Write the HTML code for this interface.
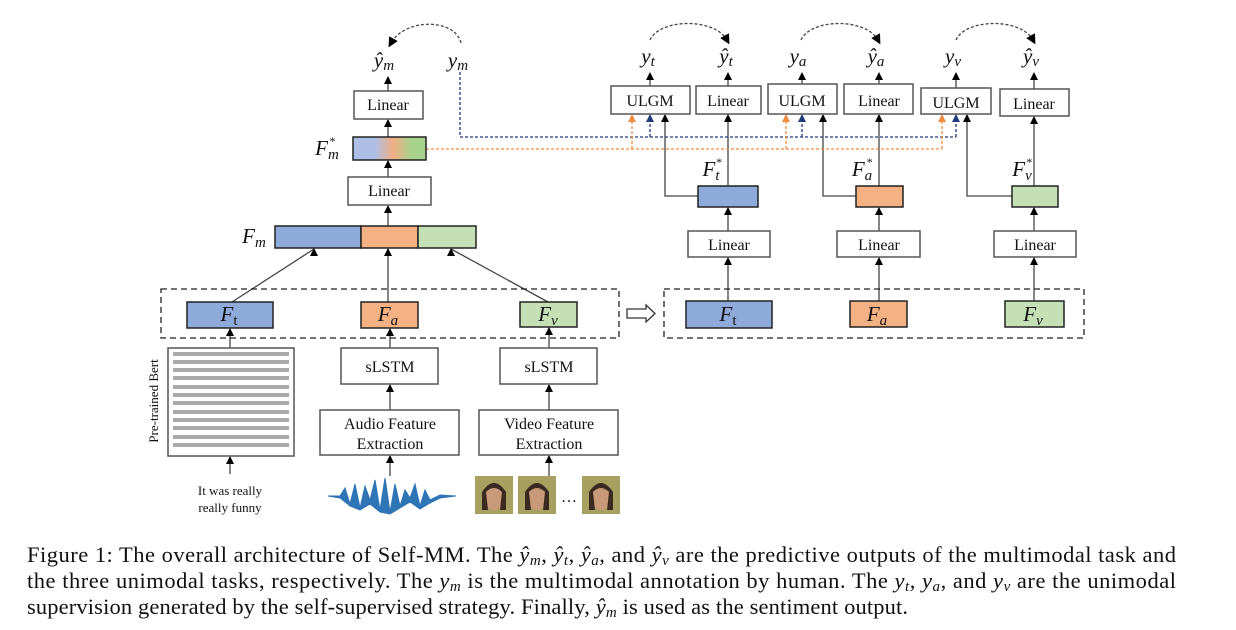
<!DOCTYPE html>
<html><head><meta charset="utf-8"><style>
body{margin:0;background:#fff}
svg{display:block}
text{font-family:"Liberation Serif",serif;fill:#111}
.m{font-style:italic}
</style></head><body>
<svg width="1236" height="630" viewBox="0 0 1236 630" xmlns="http://www.w3.org/2000/svg">
<defs>
<marker id="ao" markerWidth="8" markerHeight="8" refX="4" refY="1" orient="0" markerUnits="userSpaceOnUse"><path d="M0,8 L4,0 L8,8 Z" fill="#f08a3c"/></marker>
<marker id="ab" markerWidth="8" markerHeight="8" refX="4" refY="1" orient="0" markerUnits="userSpaceOnUse"><path d="M0,8 L4,0 L8,8 Z" fill="#1f3a7a"/></marker>
<marker id="ak" markerWidth="8" markerHeight="8" refX="4" refY="1" orient="0" markerUnits="userSpaceOnUse"><path d="M0,8 L4,0 L8,8 Z" fill="#000"/></marker>
<marker id="ad" markerWidth="10" markerHeight="10" refX="5" refY="5" orient="auto" markerUnits="userSpaceOnUse"><path d="M0,0 L10,5 L0,10 Z" fill="#000"/></marker>
<linearGradient id="g" x1="0" x2="1"><stop offset="0.3" stop-color="#aebfe6"/><stop offset="0.55" stop-color="#f2ae85"/><stop offset="0.8" stop-color="#a8d38c"/></linearGradient>
</defs>
<g stroke="#555" stroke-width="1.3" fill="none">
<g stroke="#444" marker-end="url(#ak)">
<line x1="388" y1="91" x2="388" y2="77"/>
<line x1="388" y1="137" x2="388" y2="120"/>
<line x1="388" y1="177" x2="388" y2="161"/>
<line x1="388" y1="226" x2="388" y2="206"/>
<line x1="388" y1="302" x2="388" y2="249"/>
<line x1="232" y1="302" x2="314" y2="249"/>
<line x1="548" y1="302" x2="451" y2="249"/>
<line x1="230" y1="348" x2="230" y2="329"/>
<line x1="230" y1="474" x2="230" y2="457"/>
<line x1="390" y1="348" x2="390" y2="329"/>
<line x1="390" y1="410" x2="390" y2="385"/>
<line x1="390" y1="476" x2="390" y2="456"/>
<line x1="549" y1="348" x2="549" y2="328"/>
<line x1="549" y1="410" x2="549" y2="385"/>
<line x1="549" y1="476" x2="549" y2="456"/>
<line x1="650" y1="86" x2="650" y2="73"/>
<line x1="728" y1="86" x2="728" y2="73"/>
<line x1="802" y1="84" x2="802" y2="73"/>
<line x1="879" y1="84" x2="879" y2="73"/>
<line x1="956" y1="88" x2="956" y2="73"/>
<line x1="1034" y1="89" x2="1034" y2="73"/>
<line x1="728" y1="186" x2="728" y2="115"/>
<line x1="879" y1="186" x2="879" y2="115"/>
<line x1="1034" y1="186" x2="1034" y2="117"/>
<line x1="728" y1="231" x2="728" y2="208"/>
<line x1="879" y1="231" x2="879" y2="208"/>
<line x1="1034" y1="231" x2="1034" y2="208"/>
<line x1="728" y1="301" x2="728" y2="258"/>
<line x1="879" y1="301" x2="879" y2="258"/>
<line x1="1034" y1="301" x2="1034" y2="258"/>
<polyline points="698,196 665,196 665,115"/>
<polyline points="856,196 823,196 823,115"/>
<polyline points="1012,196 967,196 967,115"/>
</g>
<polyline points="460,72 460,137 956,137" stroke="#1f3a7a" stroke-dasharray="3,2"/>
<line x1="650" y1="137" x2="650" y2="115" stroke="#1f3a7a" stroke-dasharray="3,2" marker-end="url(#ab)"/>
<line x1="802" y1="137" x2="802" y2="115" stroke="#1f3a7a" stroke-dasharray="3,2" marker-end="url(#ab)"/>
<line x1="956" y1="137" x2="956" y2="115" stroke="#1f3a7a" stroke-dasharray="3,2" marker-end="url(#ab)"/>
<polyline points="426,149 942,149" stroke="#f08a3c" stroke-dasharray="3,2"/>
<line x1="632" y1="149" x2="632" y2="115" stroke="#f08a3c" stroke-dasharray="3,2" marker-end="url(#ao)"/>
<line x1="786" y1="149" x2="786" y2="115" stroke="#f08a3c" stroke-dasharray="3,2" marker-end="url(#ao)"/>
<line x1="942" y1="149" x2="942" y2="115" stroke="#f08a3c" stroke-dasharray="3,2" marker-end="url(#ao)"/>
<g stroke="#444" stroke-dasharray="3,2" marker-end="url(#ad)">
<path d="M461,43 C455,18 405,18 391,43"/>
<path d="M650,40 C660,18 715,18 727,40"/>
<path d="M801,40 C811,18 866,18 878,40"/>
<path d="M956,40 C966,18 1021,18 1033,40"/>
</g>
<rect x="161" y="289" width="458" height="49" stroke="#222" stroke-dasharray="6,4"/>
<rect x="664" y="289" width="420" height="49" stroke="#222" stroke-dasharray="6,4"/>
<g fill="#fff" stroke="#555" stroke-width="1.5">
<rect x="354" y="91" width="69" height="28"/>
<rect x="348" y="177" width="83" height="28"/>
<rect x="611" y="86" width="79" height="28"/>
<rect x="696" y="86" width="65" height="28"/>
<rect x="768" y="84" width="69" height="30"/>
<rect x="844" y="84" width="69" height="30"/>
<rect x="921" y="88" width="70" height="26"/>
<rect x="1000" y="89" width="69" height="27"/>
<rect x="688" y="231" width="82" height="26"/>
<rect x="837" y="231" width="83" height="26"/>
<rect x="994" y="231" width="82" height="26"/>
<rect x="168" y="348" width="126" height="108"/>
<rect x="341" y="348" width="97" height="36"/>
<rect x="320" y="410" width="139" height="45"/>
<rect x="500" y="348" width="97" height="36"/>
<rect x="479" y="410" width="139" height="45"/>
</g>
<g stroke="#222" stroke-width="1.5">
<rect x="353" y="137" width="73" height="23" fill="url(#g)"/>
<rect x="275" y="226" width="86" height="22" fill="#8eaadb"/>
<rect x="361" y="226" width="57" height="22" fill="#f4b183"/>
<rect x="418" y="226" width="58" height="22" fill="#c5e0b4"/>
<rect x="187" y="302" width="86" height="26" fill="#8eaadb"/>
<rect x="361" y="302" width="57" height="26" fill="#f4b183"/>
<rect x="520" y="302" width="57" height="25" fill="#c5e0b4"/>
<rect x="698" y="186" width="60" height="21" fill="#8eaadb"/>
<rect x="856" y="186" width="47" height="21" fill="#f4b183"/>
<rect x="1012" y="186" width="46" height="21" fill="#c5e0b4"/>
<rect x="686" y="301" width="86" height="27" fill="#8eaadb"/>
<rect x="850" y="301" width="57" height="26" fill="#f4b183"/>
<rect x="1005" y="301" width="59" height="26" fill="#c5e0b4"/>
</g>
<path d="M627,309 H646 V305 L655,313.5 L646,322 V318 H627 Z" stroke="#333" fill="#fff"/>
</g>
<g fill="#aaa">
<rect x="173" y="352" width="116" height="4"/><rect x="173" y="360" width="116" height="4"/><rect x="173" y="368" width="116" height="4"/><rect x="173" y="376" width="116" height="4"/><rect x="173" y="385" width="116" height="4"/><rect x="173" y="393" width="116" height="4"/><rect x="173" y="401" width="116" height="4"/><rect x="173" y="410" width="116" height="4"/><rect x="173" y="418" width="116" height="4"/><rect x="173" y="426" width="116" height="4"/><rect x="173" y="435" width="116" height="4"/><rect x="173" y="443" width="116" height="4"/>
</g>
<path d="M328,496 L340,496 L345,488 L350,504 L355,484 L360,508 L365,486 L370,500 L375,480 L380,510 L385,478 L390,512 L395,484 L400,506 L405,490 L410,498 L415,484 L420,506 L425,490 L430,500 L440,495 L456,496 L440,498 L430,503 L420,509 L410,502 L400,508 L390,514 L380,512 L370,504 L360,510 L350,506 L340,498 Z" fill="#2e75b6" stroke="#2e75b6"/>
<g>
<rect x="475" y="476" width="38" height="38" fill="#a8a060"/><ellipse cx="494" cy="497" rx="10" ry="13" fill="#c99a7a"/><path d="M482,492 Q494,474 506,492 L506,510 L500,510 L502,492 Q494,484 486,492 L488,510 L482,510Z" fill="#3a2a20"/>
<rect x="518" y="476" width="38" height="38" fill="#a8a060"/><ellipse cx="537" cy="497" rx="10" ry="13" fill="#c99a7a"/><path d="M525,492 Q537,474 549,492 L549,510 L543,510 L545,492 Q537,484 529,492 L531,510 L525,510Z" fill="#3a2a20"/>
<rect x="582" y="476" width="38" height="38" fill="#a8a060"/><ellipse cx="601" cy="497" rx="10" ry="13" fill="#c99a7a"/><path d="M589,492 Q601,474 613,492 L613,510 L607,510 L609,492 Q601,484 593,492 L595,510 L589,510Z" fill="#3a2a20"/>
</g>
<text x="569" y="502" font-size="16" text-anchor="middle">…</text>
<g font-size="16" text-anchor="middle">
<text x="388" y="110">Linear</text>
<text x="389" y="196">Linear</text>
<text x="650" y="106">ULGM</text>
<text x="728" y="106">Linear</text>
<text x="802" y="106">ULGM</text>
<text x="879" y="106">Linear</text>
<text x="956" y="108">ULGM</text>
<text x="1034" y="109">Linear</text>
<text x="729" y="250">Linear</text>
<text x="879" y="250">Linear</text>
<text x="1035" y="250">Linear</text>
<text x="390" y="372">sLSTM</text>
<text x="549" y="372">sLSTM</text>
<text x="390" y="429">Audio Feature</text>
<text x="390" y="449">Extraction</text>
<text x="549" y="429">Video Feature</text>
<text x="549" y="449">Extraction</text>
</g>
<text x="230" y="495" font-size="13" text-anchor="middle">It was really</text>
<text x="230" y="512" font-size="13" text-anchor="middle">really  funny</text>
<text transform="translate(158,401) rotate(-90)" font-size="13" text-anchor="middle">Pre-trained  Bert</text>
<g font-size="21" class="m" text-anchor="middle">
<text x="384" y="67" class="m">ŷ<tspan font-size="15" dy="3">m</tspan></text>
<text x="458" y="67" class="m">y<tspan font-size="15" dy="3">m</tspan></text>
<text x="648" y="63" class="m">y<tspan font-size="15" dy="3">t</tspan></text>
<text x="726" y="63" class="m">ŷ<tspan font-size="15" dy="3">t</tspan></text>
<text x="798" y="63" class="m">y<tspan font-size="15" dy="3">a</tspan></text>
<text x="876" y="63" class="m">ŷ<tspan font-size="15" dy="3">a</tspan></text>
<text x="953" y="63" class="m">y<tspan font-size="15" dy="3">v</tspan></text>
<text x="1031" y="63" class="m">ŷ<tspan font-size="15" dy="3">v</tspan></text>
<text x="327" y="155" class="m">F<tspan font-size="15" dy="4">m</tspan><tspan font-size="12" dx="-10" dy="-14">*</tspan></text>
<text x="254" y="243" class="m">F<tspan font-size="15" dy="4">m</tspan></text>
<text x="229" y="321" class="m">F<tspan font-size="15" dy="4" font-style="normal">t</tspan></text>
<text x="388" y="321" class="m">F<tspan font-size="15" dy="4">a</tspan></text>
<text x="548" y="321" class="m">F<tspan font-size="15" dy="4">v</tspan></text>
<text x="728" y="321" class="m">F<tspan font-size="15" dy="4" font-style="normal">t</tspan></text>
<text x="877" y="321" class="m">F<tspan font-size="15" dy="4">a</tspan></text>
<text x="1033" y="321" class="m">F<tspan font-size="15" dy="4">v</tspan></text>
<text x="712" y="176" class="m">F<tspan font-size="15" dy="4">t</tspan><tspan font-size="12" dx="-4" dy="-14">*</tspan></text>
<text x="862" y="176" class="m">F<tspan font-size="15" dy="4">a</tspan><tspan font-size="12" dx="-6" dy="-14">*</tspan></text>
<text x="1022" y="176" class="m">F<tspan font-size="15" dy="4">v</tspan><tspan font-size="12" dx="-6" dy="-14">*</tspan></text>
</g>
<g font-size="22.5">
<text x="27" y="562" textLength="1149" lengthAdjust="spacing">Figure 1: The overall architecture of Self-MM. The <tspan class="m">ŷ<tspan font-size="15" dy="3">m</tspan></tspan><tspan dy="-3">, </tspan><tspan class="m">ŷ<tspan font-size="15" dy="3">t</tspan></tspan><tspan dy="-3">, </tspan><tspan class="m">ŷ<tspan font-size="15" dy="3">a</tspan></tspan><tspan dy="-3">, and </tspan><tspan class="m">ŷ<tspan font-size="15" dy="3">v</tspan></tspan><tspan dy="-3"> are the predictive outputs of the multimodal task and</tspan></text>
<text x="27" y="588" textLength="1149" lengthAdjust="spacing">the three unimodal tasks, respectively. The <tspan class="m">y<tspan font-size="15" dy="3">m</tspan></tspan><tspan dy="-3"> is the multimodal annotation by human. The </tspan><tspan class="m">y<tspan font-size="15" dy="3">t</tspan></tspan><tspan dy="-3">, </tspan><tspan class="m">y<tspan font-size="15" dy="3">a</tspan></tspan><tspan dy="-3">, and </tspan><tspan class="m">y<tspan font-size="15" dy="3">v</tspan></tspan><tspan dy="-3"> are the unimodal</tspan></text>
<text x="27" y="614" textLength="881" lengthAdjust="spacing">supervision generated by the self-supervised strategy. Finally, <tspan class="m">ŷ<tspan font-size="15" dy="3">m</tspan></tspan><tspan dy="-3"> is used as the sentiment output.</tspan></text>
</g>
</svg>
</body></html>
